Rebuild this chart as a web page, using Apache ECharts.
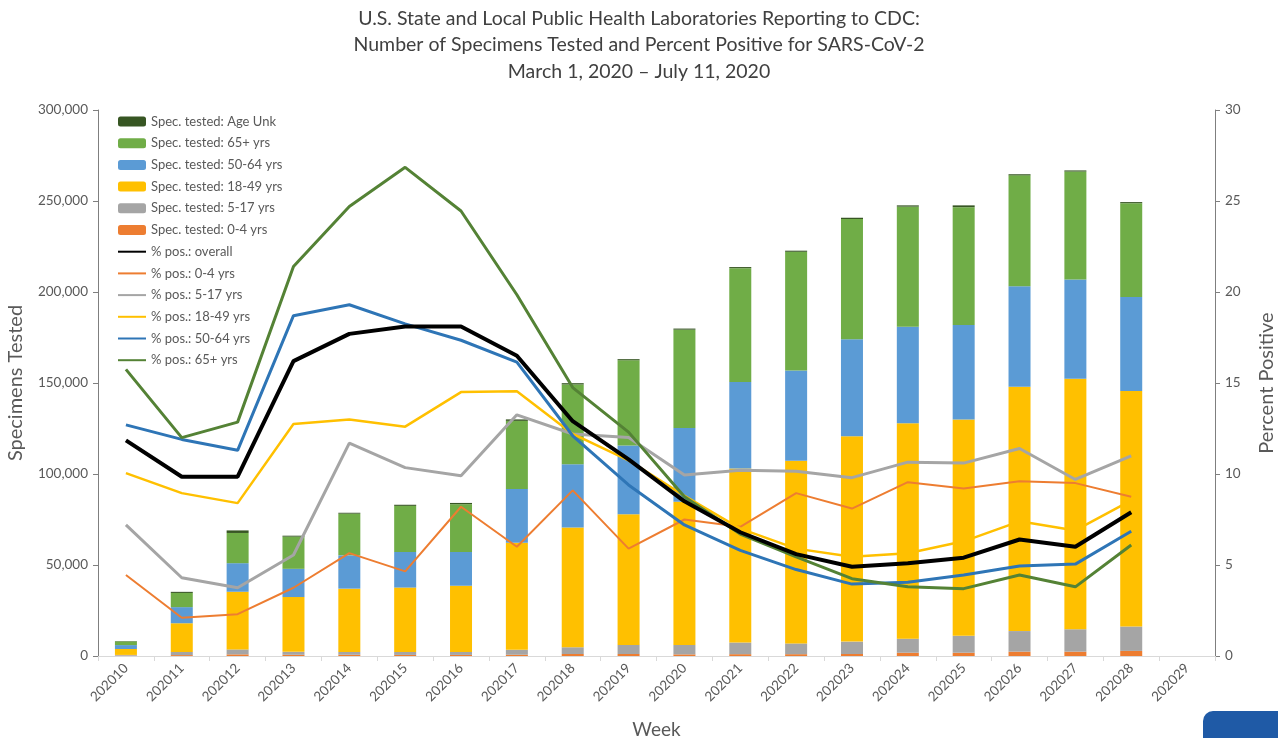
<!DOCTYPE html>
<html>
<head>
    <meta charset="UTF-8">
    <title>Specimens Tested and Percent Positive</title>
    <script src="https://cdn.jsdelivr.net/npm/echarts@6/dist/echarts.min.js"></script>
    <style>
        body { margin: 0; background: #fff; }
        #chart { width: 1278px; height: 738px; }
    </style>
</head>
<body>
    <div id="chart"></div>
    <script>
        // week labels (last one has no data)
        const weeks = ['202010', '202011', '202012', '202013', '202014', '202015', '202016', '202017', '202018', '202019',
                       '202020', '202021', '202022', '202023', '202024', '202025', '202026', '202027', '202028', '202029'];

        // specimens tested, by age group
        const spec0_4 = [200, 500, 900, 700, 700, 600, 600, 700, 1100, 1100, 900, 1000, 1000, 1100, 1800, 1800, 2400, 2400, 2800];
        const spec5_17 = [400, 1700, 2700, 1600, 1500, 1600, 1600, 2700, 3700, 5000, 5200, 6400, 5900, 6800, 7700, 9300, 11300, 12300, 13400];
        const spec18_49 = [3250, 15800, 31700, 30100, 34800, 35400, 36400, 58800, 65800, 71800, 78600, 95600, 100400, 112800, 118400, 118800, 134200, 137700, 129400];
        const spec50_64 = [2150, 8850, 15700, 15500, 18300, 19600, 18600, 29500, 34700, 37700, 40600, 47500, 49500, 53400, 53000, 52000, 55200, 54400, 51600];
        const spec65 = [2000, 7800, 16600, 17700, 22900, 25300, 26200, 37500, 43900, 46900, 54000, 62600, 65300, 66000, 66000, 64700, 61000, 59400, 51600];
        const specUnk = [200, 600, 1400, 500, 500, 600, 700, 800, 700, 600, 600, 600, 600, 700, 700, 1000, 600, 600, 600];

        // percent positive
        const posOverall = [11.85, 9.85, 9.85, 16.2, 17.7, 18.1, 18.1, 16.5, 12.9, 10.8, 8.5, 6.8, 5.6, 4.9, 5.1, 5.4, 6.4, 6.0, 7.9];
        const pos0_4 = [4.45, 2.1, 2.3, 3.75, 5.65, 4.65, 8.2, 6.0, 9.1, 5.9, 7.5, 7.1, 8.95, 8.1, 9.55, 9.2, 9.6, 9.5, 8.75];
        const pos5_17 = [7.2, 4.3, 3.75, 5.55, 11.7, 10.35, 9.9, 13.25, 12.2, 12.0, 9.95, 10.2, 10.15, 9.8, 10.65, 10.6, 11.4, 9.7, 11.0];
        const pos18_49 = [10.05, 8.95, 8.4, 12.75, 13.0, 12.6, 14.5, 14.55, 12.2, 10.75, 8.8, 7.0, 5.9, 5.45, 5.65, 6.3, 7.4, 6.9, 8.55];
        const pos50_64 = [12.7, 11.9, 11.3, 18.7, 19.3, 18.25, 17.35, 16.15, 12.1, 9.4, 7.2, 5.8, 4.75, 3.95, 4.05, 4.45, 4.95, 5.05, 6.85];
        const pos65 = [15.75, 12.0, 12.85, 21.4, 24.7, 26.85, 24.45, 19.85, 14.75, 12.3, 8.75, 6.7, 5.45, 4.25, 3.8, 3.7, 4.45, 3.8, 6.1];

        const barNames = ['Spec. tested: Age Unk', 'Spec. tested: 65+ yrs', 'Spec. tested: 50-64 yrs',
                          'Spec. tested: 18-49 yrs', 'Spec. tested: 5-17 yrs', 'Spec. tested: 0-4 yrs'];
        const lineNames = ['% pos.: overall', '% pos.: 0-4 yrs', '% pos.: 5-17 yrs',
                           '% pos.: 18-49 yrs', '% pos.: 50-64 yrs', '% pos.: 65+ yrs'];

        const chart = echarts.init(document.getElementById('chart'));
        const txt = '#595959';
        const font = 'Lato, "Open Sans", sans-serif';

        function bar(name, data, color) {
            return {
                name: name, type: 'bar', stack: 'spec', yAxisIndex: 0,
                barWidth: 22, data: data,
                itemStyle: { color: color }
            };
        }
        function line(name, data, color, width) {
            return {
                name: name, type: 'line', yAxisIndex: 1, symbol: 'none',
                data: data, z: 5,
                lineStyle: { color: color, width: width },
                itemStyle: { color: color }
            };
        }

        const option = {
            animation: false,
            textStyle: { fontFamily: font },
            title: {
                text: 'U.S. State and Local Public Health Laboratories Reporting to CDC:\nNumber of Specimens Tested and Percent Positive for SARS-CoV-2\nMarch 1, 2020 \u2013 July 11, 2020',
                left: 'center', top: 0,
                textStyle: { fontSize: 19.5, fontWeight: 'normal', color: '#404040', lineHeight: 26.5, fontFamily: font }
            },
            legend: {
                orient: 'vertical', left: 112, top: 110,
                itemWidth: 28, itemHeight: 10, itemGap: 8.7,
                textStyle: { fontSize: 13, color: txt, fontFamily: font },
                data: barNames.map(n => ({ name: n }))
                    .concat(lineNames.map(n => ({ name: n, itemStyle: { opacity: 0 } })))
            },
            grid: { left: 98, right: 63, top: 110, bottom: 82, outerBoundsMode: 'none' },
            xAxis: {
                type: 'category', data: weeks,
                name: 'Week', nameLocation: 'middle', nameGap: 64,
                nameTextStyle: { fontSize: 19, color: txt },
                axisLine: { lineStyle: { color: '#d9d9d9' } },
                axisTick: { show: true, lineStyle: { color: '#d9d9d9' } },
                axisLabel: { rotate: 45, fontSize: 13.5, color: txt, margin: 10 }
            },
            yAxis: [{
                type: 'value', min: 0, max: 300000, interval: 50000,
                name: 'Specimens Tested', nameLocation: 'middle', nameGap: 72, nameRotate: 90,
                nameTextStyle: { fontSize: 20, color: txt },
                axisLine: { show: true, lineStyle: { color: '#7f7f7f' } },
                axisTick: { show: true, length: 5, lineStyle: { color: '#7f7f7f' } },
                splitLine: { show: false },
                axisLabel: {
                    fontSize: 13.5, color: txt, margin: 10,
                    formatter: v => v.toLocaleString('en-US')
                }
            }, {
                type: 'value', min: 0, max: 30, interval: 5,
                name: 'Percent Positive', nameLocation: 'middle', nameGap: 42, nameRotate: 90,
                nameTextStyle: { fontSize: 20, color: txt },
                axisLine: { show: true, lineStyle: { color: '#7f7f7f' } },
                axisTick: { show: true, length: 5, lineStyle: { color: '#7f7f7f' } },
                splitLine: { show: false },
                axisLabel: { fontSize: 13.5, color: txt, margin: 10 }
            }],
            series: [
                bar('Spec. tested: 0-4 yrs', spec0_4, '#ED7D31'),
                bar('Spec. tested: 5-17 yrs', spec5_17, '#A5A5A5'),
                bar('Spec. tested: 18-49 yrs', spec18_49, '#FFC000'),
                bar('Spec. tested: 50-64 yrs', spec50_64, '#5B9BD5'),
                bar('Spec. tested: 65+ yrs', spec65, '#70AD47'),
                bar('Spec. tested: Age Unk', specUnk, '#375623'),
                line('% pos.: 0-4 yrs', pos0_4, '#ED7D31', 2),
                line('% pos.: 5-17 yrs', pos5_17, '#A5A5A5', 3),
                line('% pos.: 18-49 yrs', pos18_49, '#FFC000', 2.5),
                line('% pos.: 50-64 yrs', pos50_64, '#2E75B6', 3),
                line('% pos.: 65+ yrs', pos65, '#548235', 3),
                line('% pos.: overall', posOverall, '#000000', 4)
            ],
            graphic: [{
                type: 'rect', left: 1203, top: 711,
                shape: { width: 90, height: 50, r: 10 },
                style: { fill: '#1F5AA6' }
            }]
        };

        chart.setOption(option);
    </script>
</body>
</html>
